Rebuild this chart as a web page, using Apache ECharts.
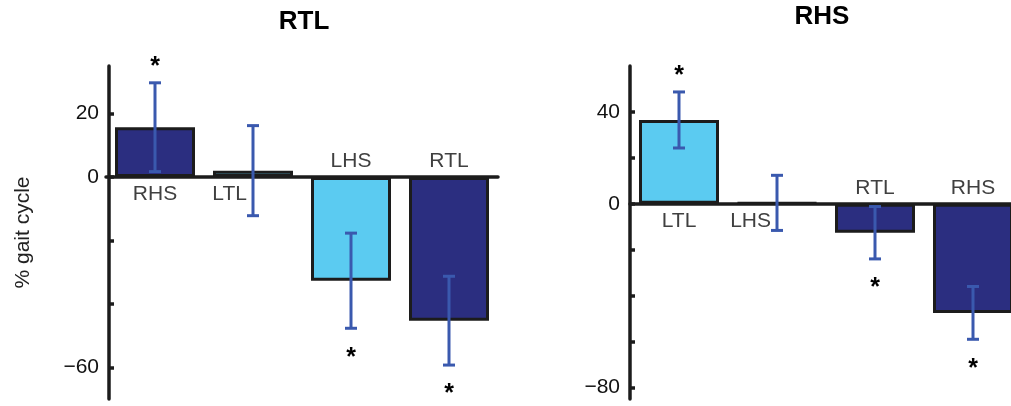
<!DOCTYPE html>
<html>
<head>
<meta charset="utf-8">
<script src="https://cdn.jsdelivr.net/npm/echarts@6/dist/echarts.min.js"></script>
<style>
  html, body { margin: 0; padding: 0; background: #fff; overflow: hidden; }
  /* the right panel runs past the window edge, so the canvas is a little wider */
  #chart { width: 1030px; height: 406px; }
</style>
</head>
<body>
<div id="chart"></div>
<script>
// Left panel: timing of events relative to RTL
const rtlCategories = ['RHS', 'LTL', 'LHS', 'RTL'];
const rtlMean = [15.7, 2.0, -32.7, -45.3];
const rtlErr = [14.0, 14.2, 15.0, 14.0];
const rtlSig = [1, 0, 1, 1];
const rtlTicks = [20, 0, -20, -40, -60];
const rtlTickLabels = [20, 0, -60];

// Right panel: timing of events relative to RHS
const rhsCategories = ['LTL', 'LHS', 'RTL', 'RHS'];
const rhsMean = [36.5, 0.4, -12.6, -47.5];
const rhsErr = [12.2, 12.0, 11.4, 11.5];
const rhsSig = [1, 0, 1, 1];
const rhsTicks = [40, 20, 0, -20, -40, -60, -80];
const rhsTickLabels = [40, 0, -80];

const FONT = "'Liberation Sans', Arial, Helvetica, sans-serif";
const DARK = '#2b2e80';
const LIGHT = '#5bcbf1';
const ERR = '#3a59ae';
const INK = '#1c1c1c';

// left-side events in light blue, right-side events in dark blue
function barColor(name) { return name.charAt(0) === 'L' ? LIGHT : DARK; }

function panelSeries(idx, cats, mean, err, sig) {
  const bars = {
    type: 'bar', xAxisIndex: idx, yAxisIndex: idx,
    barWidth: 80, z: 2,
    data: mean.map((v, i) => ({
      value: v,
      itemStyle: { color: barColor(cats[i]), borderColor: INK, borderWidth: 3 }
    }))
  };
  const errorBars = {
    type: 'custom', xAxisIndex: idx, yAxisIndex: idx, z: 4,
    data: mean.map((v, i) => [i, v - err[i], v + err[i]]),
    renderItem: function (params, api) {
      const lo = api.coord([api.value(0), api.value(1)]);
      const hi = api.coord([api.value(0), api.value(2)]);
      const x = lo[0], cap = 6;
      const st = { stroke: ERR, lineWidth: 3 };
      return {
        type: 'group',
        children: [
          { type: 'line', shape: { x1: x, y1: lo[1], x2: x, y2: hi[1] }, style: st },
          { type: 'line', shape: { x1: x - cap, y1: lo[1], x2: x + cap, y2: lo[1] }, style: st },
          { type: 'line', shape: { x1: x - cap, y1: hi[1], x2: x + cap, y2: hi[1] }, style: st }
        ]
      };
    }
  };
  // category names next to the zero line, on the side opposite the bar
  const names = {
    type: 'custom', xAxisIndex: idx, yAxisIndex: idx, z: 5,
    data: mean.map((v, i) => [i, v, v - err[i], v + err[i]]),
    renderItem: function (params, api) {
      const i = api.value(0), v = api.value(1), lo = api.value(2), hi = api.value(3);
      const p = api.coord([i, 0]);
      const below = v >= 0;
      const crosses = lo < 0 && hi > 0;
      return {
        type: 'text',
        style: {
          x: crosses ? p[0] - 6 : p[0],
          y: below ? p[1] + 7 : p[1] - 5,
          text: cats[i],
          font: '21px ' + FONT,
          fill: '#404040',
          textAlign: crosses ? 'right' : 'center',
          align: crosses ? 'right' : 'center',
          textVerticalAlign: below ? 'top' : 'bottom',
          verticalAlign: below ? 'top' : 'bottom'
        }
      };
    }
  };
  const stars = {
    type: 'custom', xAxisIndex: idx, yAxisIndex: idx, z: 5,
    data: mean.map((v, i) => [i, v, v - err[i], v + err[i], sig[i]]),
    renderItem: function (params, api) {
      if (!api.value(4)) return null;
      const v = api.value(1);
      const end = api.coord([api.value(0), v >= 0 ? api.value(3) : api.value(2)]);
      return {
        type: 'text',
        style: {
          x: end[0],
          y: v >= 0 ? end[1] - 28 : end[1] + 17,
          text: '*',
          font: 'bold 25px ' + FONT,
          fill: '#000',
          textAlign: 'center', align: 'center',
          textVerticalAlign: 'top', verticalAlign: 'top'
        }
      };
    }
  };
  return [bars, errorBars, names, stars];
}

function valueAxis(idx, min, max, ticks, labels, offset, name) {
  return {
    type: 'value', gridIndex: idx, min: min, max: max, offset: offset,
    splitLine: { show: false },
    name: name || '',
    nameLocation: 'middle',
    nameGap: 75,
    nameRotate: 90,
    nameTextStyle: { fontFamily: FONT, fontSize: 21, color: '#222' },
    axisLine: { show: true, onZero: false, lineStyle: { color: INK, width: 3.5 } },
    axisTick: { show: true, inside: true, length: 5, customValues: ticks, lineStyle: { color: INK, width: 3.5 } },
    axisLabel: { show: true, customValues: labels, margin: 10, fontFamily: FONT, fontSize: 21, color: '#111',
      formatter: v => (v < 0 ? '\u2212' + Math.abs(v) : String(v)) }
  };
}

function catAxis(idx, cats) {
  return {
    type: 'category', gridIndex: idx, data: cats,
    axisLine: { show: true, onZero: true, lineStyle: { color: INK, width: 3.5 } },
    axisTick: { show: false },
    axisLabel: { show: false }
  };
}

const chart = echarts.init(document.getElementById('chart'), null, { renderer: 'canvas' });
chart.setOption({
  backgroundColor: '#fff',
  animation: false,
  title: [
    { text: 'RTL', left: 304, top: 9, textAlign: 'center', padding: 0,
      textStyle: { fontFamily: FONT, fontSize: 26, fontWeight: 'bold', color: '#000' } },
    { text: 'RHS', left: 822, top: 4, textAlign: 'center', padding: 0,
      textStyle: { fontFamily: FONT, fontSize: 26, fontWeight: 'bold', color: '#000' } }
  ],
  grid: [
    { left: 106, top: 66, width: 392, height: 333 },
    { left: 630, top: 66, width: 392, height: 333 }
  ],
  xAxis: [catAxis(0, rtlCategories), catAxis(1, rhsCategories)],
  yAxis: [
    valueAxis(0, -70, 35, rtlTicks, rtlTickLabels, -3, '% gait cycle'),
    valueAxis(1, -85, 60, rhsTicks, rhsTickLabels, 0)
  ],
  series: [
    ...panelSeries(0, rtlCategories, rtlMean, rtlErr, rtlSig),
    ...panelSeries(1, rhsCategories, rhsMean, rhsErr, rhsSig)
  ]
});
</script>
</body>
</html>
